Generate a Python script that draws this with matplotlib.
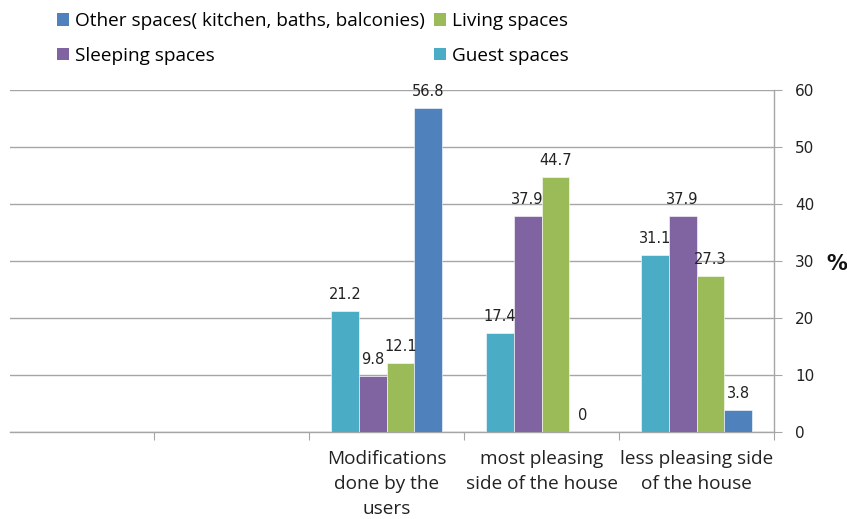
import numpy as np
import matplotlib.pyplot as plt
from matplotlib.patches import Patch

# data
categories = ["", "",
              "Modifications\ndone by the\nusers",
              "most pleasing\nside of the house",
              "less pleasing side\nof the house"]
series_names = ["Guest spaces", "Sleeping spaces", "Living spaces",
                "Other spaces( kitchen, baths, balconies)"]
guest = [np.nan, np.nan, 21.2, 17.4, 31.1]
sleeping = [np.nan, np.nan, 9.8, 37.9, 37.9]
living = [np.nan, np.nan, 12.1, 44.7, 27.3]
other = [np.nan, np.nan, 56.8, 0, 3.8]
y_ticks = [0, 10, 20, 30, 40, 50, 60]

colors = ["#4BACC6", "#8064A2", "#9BBB59", "#4F81BD"]
grey = "#A6A6A6"

fig = plt.figure(figsize=(8.47, 5.19), dpi=100)
W, H = 847, 519
ax = fig.add_axes([10 / W, (H - 432) / H, (774 - 10) / W, (432 - 90) / H])

x = np.arange(len(categories))
bar_w = 0.179
values = [guest, sleeping, living, other]
for i, (vals, col) in enumerate(zip(values, colors)):
    pos = x + (i - 1.5) * bar_w
    ax.bar(pos, vals, width=bar_w, color=col, edgecolor="white",
           linewidth=0.4, zorder=3)
    for px, v in zip(pos, vals):
        if np.isnan(v):
            continue
        ax.annotate(f"{v:g}", (px, v), xytext=(0, 12),
                    textcoords="offset points", ha="center", va="center",
                    fontsize=10.5, color="#222222", family="DejaVu Sans",
                    zorder=4)

ax.set_ylim(0, 60)
ax.set_xlim(0.5 - 144 / 155, 4.5)
ax.set_yticks(y_ticks)
ax.yaxis.tick_right()
ax.tick_params(axis="y", length=6, color=grey, pad=9, labelsize=11,
               labelcolor="#222222")
ax.grid(axis="y", color=grey, linewidth=1, zorder=0)

# category separators as major ticks, names as minor ticks
ax.set_xticks(np.arange(0.5, 4.6, 1.0))
ax.set_xticklabels([])
ax.tick_params(axis="x", which="major", length=6, color=grey)
ax.set_xticks(x, minor=True)
ax.set_xticklabels(categories, minor=True, family="Open Sans", fontsize=13.7,
                   color="#222222", linespacing=1.5)
ax.tick_params(axis="x", which="minor", length=0, pad=13)

for s in ["top", "left"]:
    ax.spines[s].set_visible(False)
ax.spines["right"].set_color(grey)
ax.spines["bottom"].set_color(grey)
ax.spines["right"].set_linewidth(1)
ax.spines["bottom"].set_linewidth(1)

fig.text(837 / W, (H - 264) / H, "%", fontsize=15, ha="center",
         va="center", color="#111111", family="DejaVu Sans",
         fontweight="semibold")

# legend: column-wise fill gives Other/Living on row 1, Sleeping/Guest on row 2
order = [3, 1, 2, 0]
handles = [Patch(facecolor=colors[i]) for i in order]
labels = [series_names[i] for i in order]
fig.legend(handles, labels, ncol=2, loc="upper left",
           bbox_to_anchor=(57 / W, 1 - 12 / H), frameon=False,
           prop={"family": "Open Sans", "size": 13.7},
           handlelength=0.63, handleheight=0.63, handletextpad=0.32,
           columnspacing=0.47, labelspacing=0.87, borderpad=0,
           borderaxespad=0)

fig.savefig("out.png", dpi=100)
